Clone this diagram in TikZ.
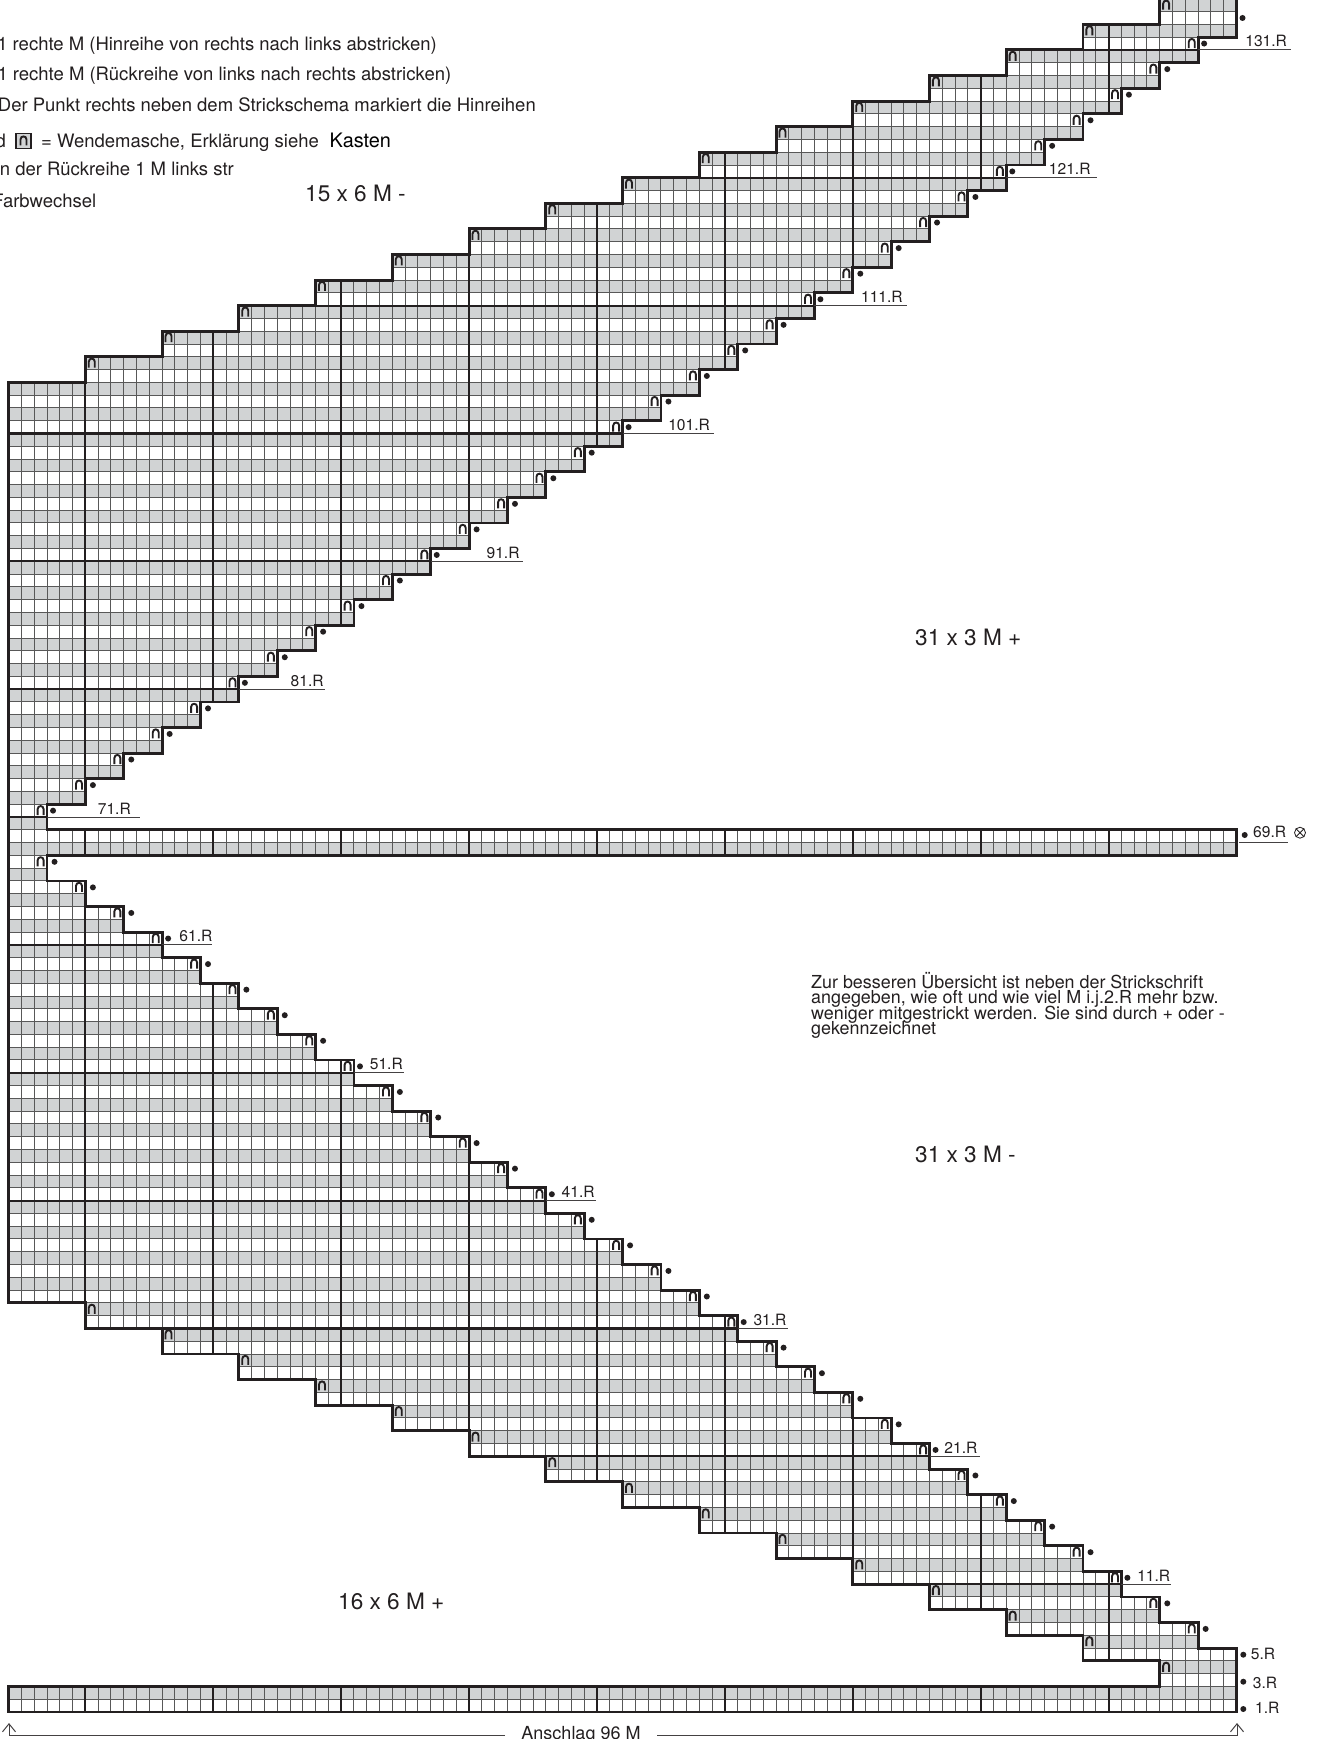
\documentclass[tikz,border=0pt]{standalone}
\usepackage{fontspec}
\setmainfont{TeX Gyre Heros}
\usetikzlibrary{arrows.meta}
\definecolor{ink}{HTML}{231F20}
\definecolor{cellgrey}{HTML}{D1D3D4}
\definecolor{gridline}{HTML}{585858}
\newcommand{\strickoutline}{(0,0) -- (0,5)
  \foreach \k in {3,...,33} { -- ({3*(\k-2)},{2*\k-1}) -- ({3*(\k-2)},{2*\k+1}) }
  -- (0,67) -- (0,69) -- (93,69)
  \foreach \k in {35,...,66} { -- ({93-3*(\k-35)},{2*\k-1}) -- ({93-3*(\k-35)},{2*\k+1}) }
  -- (0,134)
  \foreach \m in {15,14,...,1} { -- ({96-6*\m},{2*\m+104}) -- ({96-6*\m},{2*\m+102}) }
  -- (96,104) -- (96,32)
  \foreach \m in {15,14,...,1} { -- ({6*\m},{2*\m+2}) -- ({6*\m},{2*\m}) }
  -- (96,2) -- (96,0) -- cycle}
\tikzset{
  thingrid/.style={gridline,line width=1pt},
  thickgrid/.style={ink,line width=2.1pt},
  contour/.style={ink,line width=2.9pt,miter limit=10},
  legendtext/.style={inner sep=0pt,text=ink,font=\fontsize{18.5}{22}\selectfont},
  notetext/.style={inner sep=0pt,text=ink,anchor=base west,font=\fontsize{17.9}{20}\selectfont},
  rowlabel/.style={inner sep=0pt,text=ink,font=\fontsize{15.6}{18}\selectfont},
  bigtext/.style={inner sep=0pt,text=ink,font=\fontsize{22.6}{27}\selectfont},
  underl/.style={ink!85,line width=1pt},
  wende/.pic={\draw[ink,line width=1.9pt] (-3pt,-4.5pt) -- (-3pt,1.5pt) .. controls (-3pt,5.6pt) and (3pt,5.6pt) .. (3pt,1.5pt) -- (3pt,-4.5pt);}
}
\begin{document}
\begin{tikzpicture}[x=1pt,y=-1pt]
\useasboundingbox (0,0) rectangle (1318,1739);
\clip (0,0) rectangle (1318,1739);
\fill[white] (0,0) rectangle (1318,1739);
% the chart: x = stitches from the right, y = rows from the bottom
\begin{scope}[shift={(1236.5,1712)},x=-12.79pt,y=12.785pt]
  \begin{scope}
    \clip \strickoutline;
    \foreach \r in {2,4,...,134} { \fill[cellgrey] (-1,\r-1) rectangle (97,\r); }
    \foreach \c in {1,...,95} { \draw[thingrid] (\c,0) -- (\c,135); }
    \foreach \r in {1,...,134} { \draw[thingrid] (-1,\r) -- (97,\r); }
    \foreach \c in {10,20,...,90} { \draw[thickgrid] (\c,0) -- (\c,135); }
    \foreach \r in {10,20,...,130} { \draw[thickgrid] (-1,\r) -- (97,\r); }
  \end{scope}
  \draw[contour] \strickoutline;
  % turning stitches and dots, right side
  \foreach \k [evaluate=\k as \c using {int(3*(\k-2))}, evaluate=\k as \dx using {ifthenelse(mod(\k,5)==0,6,7.5)}] in {3,...,33} {
    \pic at ({\c+0.5},{2*\k+0.5}) {wende};
    \fill[ink] (\c,{2*\k+0.5}) ++(\dx pt,0) circle[radius=3pt];
  }
  \foreach \k [evaluate=\k as \c using {int(93-3*(\k-35))}, evaluate=\k as \dx using {ifthenelse(mod(\k,5)==0,6,7.5)}] in {35,...,65} {
    \pic at ({\c+0.5},{2*\k+0.5}) {wende};
    \fill[ink] (\c,{2*\k+0.5}) ++(\dx pt,0) circle[radius=3pt];
  }
  \fill[ink] (0,132.5) ++(6pt,0) circle[radius=3pt];
  % turning stitches, left side
  \foreach \m in {1,...,15} {
    \pic at ({6*\m-0.5},{2*\m+1.5}) {wende};
    \pic at ({96-6*\m-0.5},{2*\m+103.5}) {wende};
  }
  % row labels with rule: lower half
  \foreach \r/\c/\e in {11/9/49,21/24/48,31/39/49,41/54/49,51/69/49,61/84/50.5} {
    \draw[underl] (\c,\r-1) -- ++(50pt,0);
    \node[rowlabel,anchor=base east] (lab\r) at (\c,\r-1) [xshift=\e pt,yshift=3pt] {\r.R};
  }
  % row labels with rule: upper half
  \foreach \r/\c/\len/\e in {71/93/93/84,81/78/86/85,91/63/92/89,101/48/91/87.5,111/33/93/88.5,121/18/91/84.5,131/3/93/89} {
    \draw[underl] (\c,\r-1) -- ++(\len pt,0);
    \node[rowlabel,anchor=base east] (lab\r) at (\c,\r-1) [xshift=\e pt,yshift=3pt] {\r.R};
  }
\end{scope}
% bottom row labels
\fill[ink] (1243.3,1654.7) circle[radius=3pt];
\fill[ink] (1243.3,1681.7) circle[radius=3pt];
\fill[ink] (1243.3,1709) circle[radius=3pt];
\node[rowlabel,anchor=base west] (lab5) at (1250.7,1659) {5.R};
\node[rowlabel,anchor=base west] (lab3) at (1252.7,1688.3) {3.R};
\node[rowlabel,anchor=base west] (lab1) at (1255,1713) {1.R};
% row 69
\fill[ink] (1244.7,835) circle[radius=3pt];
\draw[underl] (1239,842.6) -- (1288,842.6);
\node[rowlabel,anchor=base west] (lab69) at (1253,837.5) {69.R};
\node[draw=ink,line width=0.8pt,circle,minimum size=11pt,inner sep=0pt] (xmark) at (1300,832.7) {};
\draw[ink,line width=0.8pt] (xmark.45) -- (xmark.225);
\draw[ink,line width=0.8pt] (xmark.135) -- (xmark.315);
% legend
\node[legendtext,anchor=base east] (leg1) at (437,50.7) {\llap{1 }rechte M (Hinreihe von rechts nach links abstricken)};
\node[legendtext,anchor=base east] (leg2) at (451.5,81) {\llap{1 }rechte M (Rückreihe von links nach rechts abstricken)};
\node[legendtext,anchor=base east] (leg3) at (536,111.7) {Der Punkt rechts neben dem Strickschema markiert die Hinreihen};
\node[legendtext,anchor=base east] (leg4a) at (6,147.7) {und};
\node[draw=ink,line width=1.2pt,fill=cellgrey,minimum size=15pt,inner sep=0pt] (legbox) at (23.5,141) {};
\pic at (legbox.center) {wende};
\node[legendtext,anchor=base west] (leg4b) at (41,147.7) {= Wendemasche, Erklärung siehe};
\node[legendtext,anchor=base west,font=\fontsize{19.9}{24}\selectfont,text=black] (leg4c) at (329.5,148) {Kasten};
\node[legendtext,anchor=base east] (leg5) at (234,175.7) {in der Rückreihe 1 M links str};
\node[legendtext,anchor=base east] (leg6) at (96.5,207.3) {Farbwechsel};
% big annotations
\node[bigtext,anchor=base west] (t1) at (305,201.7) {15 x 6 M -};
\node[bigtext,anchor=base west] (t2) at (915,645) {31 x 3 M +};
\node[bigtext,anchor=base west] (t3) at (915,1162) {31 x 3 M -};
\node[bigtext,anchor=base west] (t4) at (338,1609) {16 x 6 M +};
\node[notetext] (note1) at (811,988) {Zur besseren Übersicht ist neben der Strickschrift};
\node[notetext] (note2) at (811,1003.6) {angegeben, wie oft und wie viel M i.j.2.R mehr bzw.};
\node[notetext] (note3) at (811,1019.2) {weniger mitgestrickt werden. Sie sind durch + oder -};
\node[notetext] (note4) at (811,1034.8) {gekennzeichnet};
% cast-on measure
\node[legendtext,anchor=base,font=\fontsize{18}{22}\selectfont] (cast) at (581,1739.5) {Anschlag 96 M};
\coordinate (castL) at (505,1735.7);
\coordinate (castR) at (657,1735.7);
\coordinate (cornerL) at (9,1735.7);
\coordinate (cornerR) at (1237,1735.7);
\coordinate (tipL) at (9,1723);
\coordinate (tipR) at (1237,1723);
\draw[ink!85,line width=1pt,-{Straight Barb[length=8pt,width=13pt,line width=1pt]}] (castL) -- (cornerL) -- (tipL);
\draw[ink!85,line width=1pt,-{Straight Barb[length=8pt,width=13pt,line width=1pt]}] (castR) -- (cornerR) -- (tipR);
\end{tikzpicture}
\end{document}
